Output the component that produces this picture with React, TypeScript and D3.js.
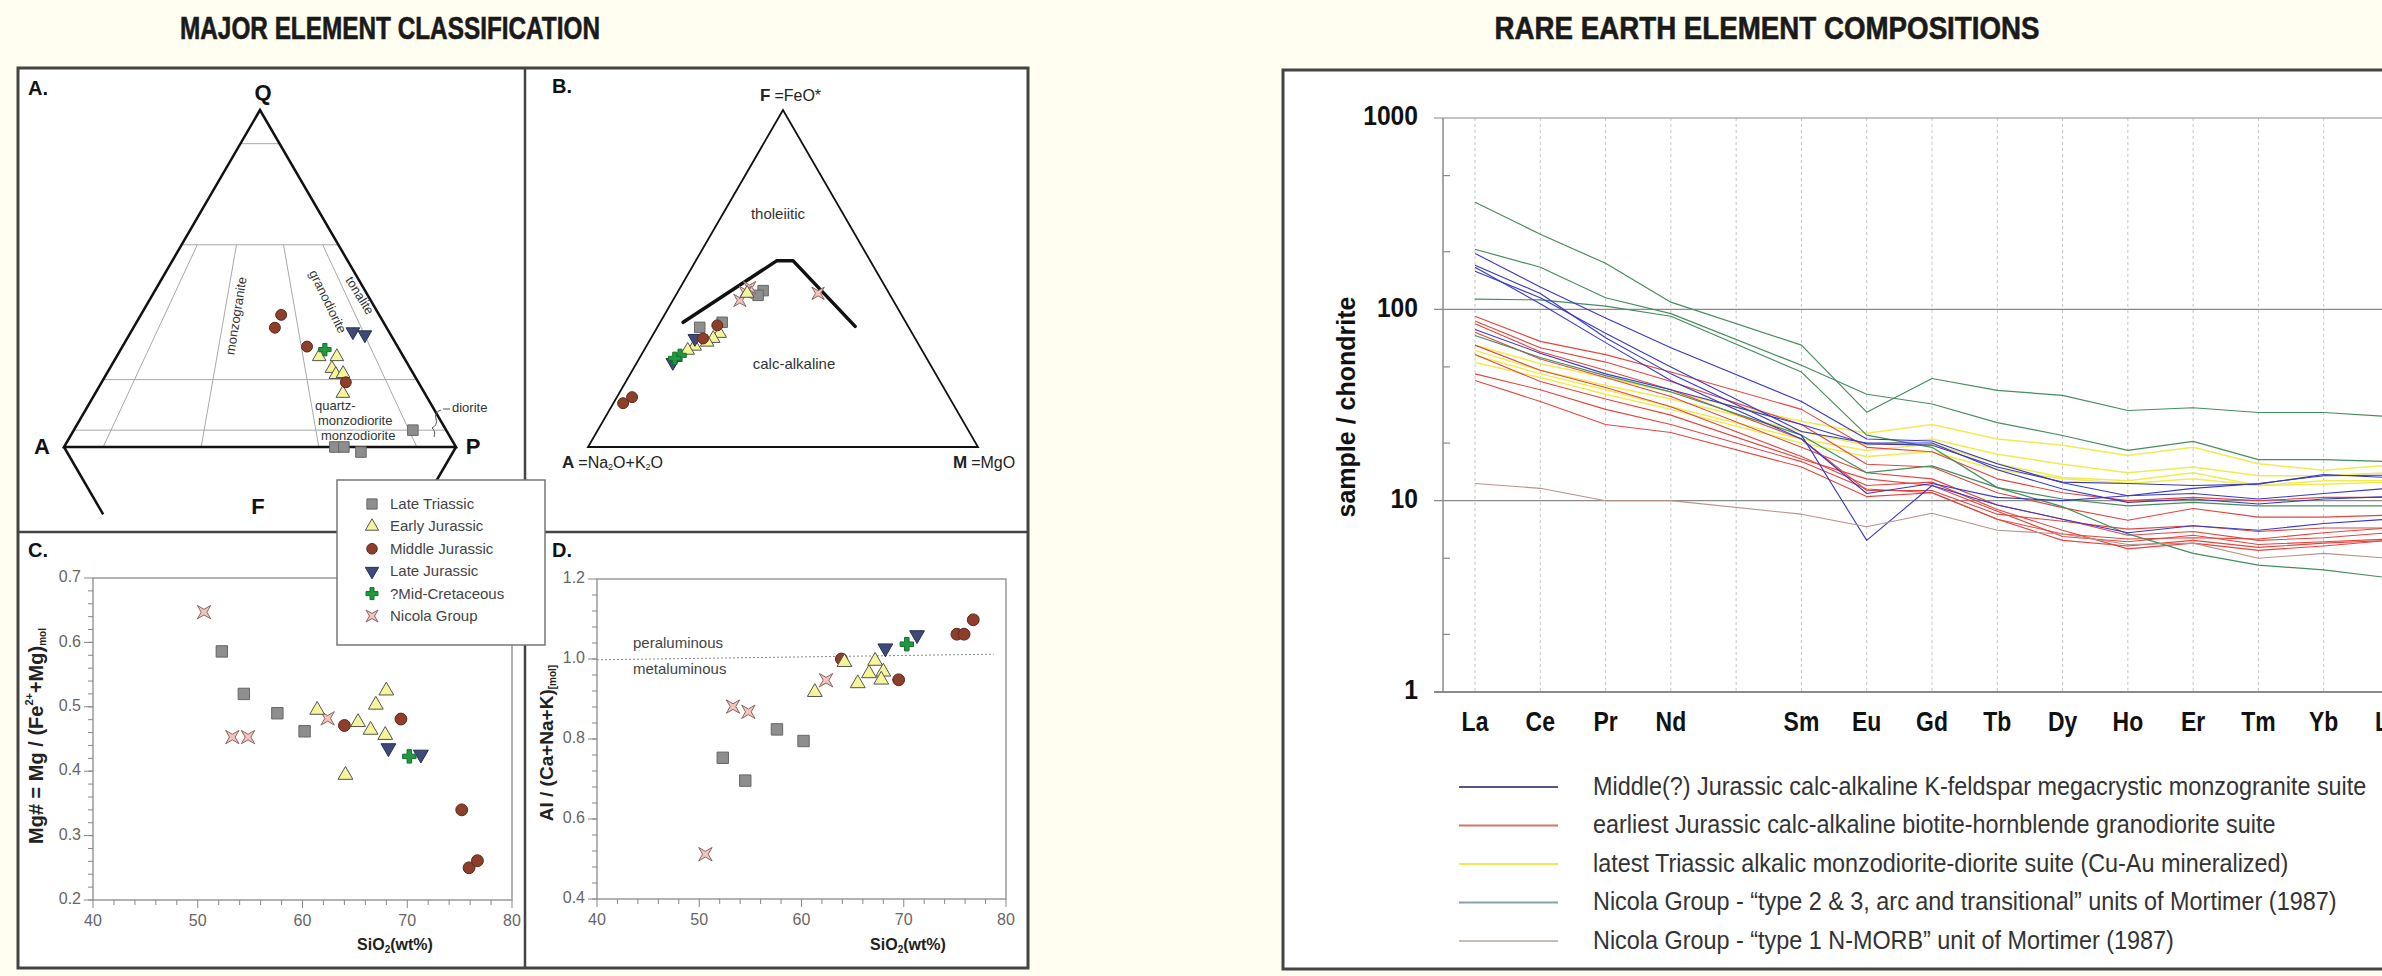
import React from 'react';
import * as d3 from 'd3';

const W = 2382;
const H = 976;

const groups = ['Late Triassic', 'Early Jurassic', 'Middle Jurassic', 'Late Jurassic', '?Mid-Cretaceous', 'Nicola Group'];

// A. QAP modal classification (Q + A + P = 100)
const qapPoints = [
  { g: 'Late Triassic', q: 5.0, a: 8.5, p: 86.5 },
  { g: 'Late Triassic', q: 0, a: 30.9, p: 69.1 },
  { g: 'Late Triassic', q: 0, a: 28.6, p: 71.4 },
  { g: 'Late Triassic', q: -1.5, a: 25.0, p: 76.5 },
  { g: 'Middle Jurassic', q: 39.2, a: 25.0, p: 35.8 },
  { g: 'Middle Jurassic', q: 35.4, a: 28.5, p: 36.1 },
  { g: 'Middle Jurassic', q: 29.8, a: 23.1, p: 47.1 },
  { g: 'Late Jurassic', q: 34.2, a: 9.2, p: 56.6 },
  { g: 'Late Jurassic', q: 33.3, a: 6.6, p: 60.1 },
  { g: 'Early Jurassic', q: 26.8, a: 21.5, p: 51.7 },
  { g: 'Early Jurassic', q: 26.8, a: 17.0, p: 56.2 },
  { g: 'Early Jurassic', q: 23.3, a: 20.0, p: 56.7 },
  { g: 'Early Jurassic', q: 21.5, a: 19.9, p: 58.6 },
  { g: 'Early Jurassic', q: 21.8, a: 17.9, p: 60.3 },
  { g: 'Early Jurassic', q: 15.9, a: 20.9, p: 63.2 },
  { g: 'Middle Jurassic', q: 19.2, a: 18.5, p: 62.3 },
  { g: '?Mid-Cretaceous', q: 28.9, a: 19.0, p: 52.1 },
];
const qapHorizontals = [90, 60, 20, 5];
const qapRadials = [0.1, 0.35, 0.65, 0.9];

// B. AFM (F = FeO*, M = MgO, A = rest)
const afmBoundary = [[37.0, 5.9], [55.3, 20.8], [55.3, 24.9], [35.8, 50.6]];
const afmPoints = [
  { g: 'Late Triassic', f: 35.5, m: 10.9 },
  { g: 'Late Triassic', f: 37.0, m: 15.9 },
  { g: 'Late Triassic', f: 46.4, m: 21.7 },
  { g: 'Late Triassic', f: 45.0, m: 21.1 },
  { g: 'Nicola Group', f: 47.3, m: 17.8 },
  { g: 'Nicola Group', f: 43.5, m: 17.2 },
  { g: 'Nicola Group', f: 45.9, m: 17.4 },
  { g: 'Nicola Group', f: 45.6, m: 36.2 },
  { g: 'Early Jurassic', f: 45.6, m: 18.0 },
  { g: 'Early Jurassic', f: 33.7, m: 16.9 },
  { g: 'Early Jurassic', f: 32.2, m: 16.0 },
  { g: 'Early Jurassic', f: 31.1, m: 15.0 },
  { g: 'Early Jurassic', f: 29.9, m: 12.4 },
  { g: 'Early Jurassic', f: 28.7, m: 11.2 },
  { g: 'Late Jurassic', f: 32.2, m: 11.3 },
  { g: 'Late Jurassic', f: 25.1, m: 9.2 },
  { g: 'Middle Jurassic', f: 36.1, m: 15.1 },
  { g: 'Middle Jurassic', f: 32.2, m: 13.4 },
  { g: 'Middle Jurassic', f: 13.0, m: 2.5 },
  { g: 'Middle Jurassic', f: 14.8, m: 3.9 },
  { g: '?Mid-Cretaceous', f: 27.2, m: 10.0 },
  { g: '?Mid-Cretaceous', f: 26.3, m: 9.1 },
];

// C. Mg# vs SiO2
const mgPoints = [
  { g: 'Late Triassic', si: 52.3, v: 0.586 },
  { g: 'Late Triassic', si: 54.4, v: 0.520 },
  { g: 'Late Triassic', si: 57.6, v: 0.490 },
  { g: 'Late Triassic', si: 60.2, v: 0.462 },
  { g: 'Nicola Group', si: 50.6, v: 0.647 },
  { g: 'Nicola Group', si: 53.3, v: 0.453 },
  { g: 'Nicola Group', si: 54.8, v: 0.453 },
  { g: 'Nicola Group', si: 62.4, v: 0.482 },
  { g: 'Early Jurassic', si: 61.4, v: 0.495 },
  { g: 'Early Jurassic', si: 65.3, v: 0.476 },
  { g: 'Early Jurassic', si: 66.5, v: 0.464 },
  { g: 'Early Jurassic', si: 67.0, v: 0.503 },
  { g: 'Early Jurassic', si: 68.0, v: 0.525 },
  { g: 'Early Jurassic', si: 67.9, v: 0.456 },
  { g: 'Early Jurassic', si: 64.1, v: 0.394 },
  { g: 'Middle Jurassic', si: 64.0, v: 0.471 },
  { g: 'Middle Jurassic', si: 69.4, v: 0.481 },
  { g: 'Middle Jurassic', si: 75.2, v: 0.340 },
  { g: 'Middle Jurassic', si: 75.9, v: 0.250 },
  { g: 'Middle Jurassic', si: 76.7, v: 0.261 },
  { g: 'Late Jurassic', si: 68.2, v: 0.436 },
  { g: 'Late Jurassic', si: 71.3, v: 0.426 },
  { g: '?Mid-Cretaceous', si: 70.2, v: 0.423 },
];

// D. ASI vs SiO2
const asiBoundary = [[40, 0.998], [78.8, 1.012]];
const asiPoints = [
  { g: 'Late Triassic', si: 52.3, v: 0.753 },
  { g: 'Late Triassic', si: 54.5, v: 0.696 },
  { g: 'Late Triassic', si: 57.6, v: 0.824 },
  { g: 'Late Triassic', si: 60.2, v: 0.795 },
  { g: 'Nicola Group', si: 50.6, v: 0.512 },
  { g: 'Nicola Group', si: 53.3, v: 0.881 },
  { g: 'Nicola Group', si: 54.8, v: 0.868 },
  { g: 'Nicola Group', si: 62.4, v: 0.947 },
  { g: 'Middle Jurassic', si: 63.9, v: 1.0 },
  { g: 'Middle Jurassic', si: 69.5, v: 0.948 },
  { g: 'Middle Jurassic', si: 75.2, v: 1.062 },
  { g: 'Middle Jurassic', si: 75.9, v: 1.062 },
  { g: 'Middle Jurassic', si: 76.8, v: 1.098 },
  { g: 'Early Jurassic', si: 61.3, v: 0.917 },
  { g: 'Early Jurassic', si: 64.2, v: 0.992 },
  { g: 'Early Jurassic', si: 65.5, v: 0.939 },
  { g: 'Early Jurassic', si: 66.6, v: 0.964 },
  { g: 'Early Jurassic', si: 67.2, v: 0.995 },
  { g: 'Early Jurassic', si: 68.0, v: 0.968 },
  { g: 'Early Jurassic', si: 67.8, v: 0.948 },
  { g: 'Late Jurassic', si: 68.2, v: 1.027 },
  { g: 'Late Jurassic', si: 71.3, v: 1.06 },
  { g: '?Mid-Cretaceous', si: 70.3, v: 1.037 },
];

// REE chondrite-normalised patterns (Pm not analysed)
const reeElements = ['La', 'Ce', 'Pr', 'Nd', 'Pm', 'Sm', 'Eu', 'Gd', 'Tb', 'Dy', 'Ho', 'Er', 'Tm', 'Yb', 'Lu'];
const reeLabels = ['La', 'Ce', 'Pr', 'Nd', '', 'Sm', 'Eu', 'Gd', 'Tb', 'Dy', 'Ho', 'Er', 'Tm', 'Yb', 'Lu'];
const reeTicksMajor = [1, 10, 100, 1000];
const reeTicksMinor = [2, 5, 20, 50, 200, 500];

const reeMonzogranite = [
  [196, 131, 90, 63, null, 33, 21, 20.5, 15.6, 12.4, 10.6, 11.6, 12.3, 13.5, 13.6],
  [170, 121, 71, 46, null, 22, 6.2, 12, 9.5, 8, 6.8, 7.4, 7, 7.6, 8],
  [166, 107, 67, 42.5, null, 21, 10.9, 12.3, 10.4, 10, 10.6, 10.9, 10.2, 10.9, 11.6],
  [158, 115, 75, 50, null, 23, 20, 20, 14.5, 11.5, 9.8, 10.2, 9.6, 10.2, 10.5],
  [78.5, 59, 46, 38, null, 25, 19.8, 19.5, 15, 12.5, 12.3, 12, 12.2, 13.7, 13.2],
];
const reeGranodiorite = [
  [92, 68, 58, 47, null, 30, 19, 18, 13, 11, 10, 10.4, 10, 10.4, 10.4],
  [87, 63, 53, 42, null, 25, 15.5, 15, 11, 9.2, 7.9, 9.1, 8.2, 8.2, 8.4],
  [84, 60, 48, 38, null, 21, 11.3, 11.3, 8.5, 7.8, 7.1, 7.4, 6.9, 7.2, 7.2],
  [76, 55, 44, 35, null, 19, 14, 13, 9.5, 8, 6.6, 6.9, 6.2, 6.4, 6.8],
  [65, 48, 39, 31, null, 17, 12, 12.5, 9, 7, 5.6, 6.0, 5.5, 5.8, 6.2],
  [58, 42, 34, 28, null, 16.5, 13, 12, 8.8, 6.5, 6.1, 6.6, 5.9, 6.1, 6.3],
  [46, 38, 30, 25, null, 16, 11.5, 11, 8, 6.2, 5.8, 6.2, 5.7, 6, 6.2],
  [42.5, 33, 25, 22.7, null, 15, 10.5, 11, 8, 6.7, 6.3, 6.4, 6.3, 6.8, 7.2],
];
const reeAlkalic = [
  [65, 52, 44, 37, null, 26, 22.5, 25, 21, 19.5, 17.2, 19, 15.6, 14.4, 15.3],
  [61, 48, 40, 34, null, 23, 19.5, 21, 17.5, 15.5, 14, 15, 13.5, 13.5, 14],
  [57.5, 46, 38, 31, null, 21, 18.3, 19.8, 15.6, 13.2, 12.7, 14, 12, 12.7, 12.7],
  [52.7, 44, 36, 30, null, 20, 17, 18, 14.5, 13, 12.3, 13, 12, 12.2, 12.5],
];
const reeNicolaArc = [
  [363, 247, 174, 109, null, 65, 29, 43.5, 37.7, 35.5, 29.6, 30.6, 28.9, 28.9, 27.5],
  [206, 166, 115, 95, null, 51, 36, 32, 25.6, 21.9, 18.3, 20.4, 16.4, 16.4, 16],
  [113, 112, 104, 92, null, 47, 22, 19, 11.7, 9.3, 6.7, 5.3, 4.6, 4.35, 3.95],
  [73, 56, 45, 37, null, 22, 14, 15.2, 11.7, 10.2, 9.4, 9.8, 9.4, 9.4, 9.4],
];
const reeNicolaMorb = [
  [12.3, 11.6, 10, 10, null, 8.5, 7.3, 8.6, 7.0, 6.7, 5.9, 6.0, 5.0, 5.3, 5.0],
];
const reeLegendLabels = [
  'Middle(?) Jurassic calc-alkaline K-feldspar megacrystic monzogranite suite',
  'earliest Jurassic calc-alkaline biotite-hornblende granodiorite suite',
  'latest Triassic alkalic monzodiorite-diorite suite (Cu-Au mineralized)',
  'Nicola Group - \u201Ctype 2 & 3, arc and transitional\u201D units of Mortimer (1987)',
  'Nicola Group - \u201Ctype 1 N-MORB\u201D unit of Mortimer (1987)',
];

const FONT = "'Liberation Sans', Arial, Helvetica, sans-serif";

const symbolNicola = {
  draw(ctx: any, size: number) {
    const a = Math.sqrt(size) / 2;
    const b = a * 0.42;
    ctx.moveTo(-a, -a);
    ctx.lineTo(0, -b);
    ctx.lineTo(a, -a);
    ctx.lineTo(b, 0);
    ctx.lineTo(a, a);
    ctx.lineTo(0, b);
    ctx.lineTo(-a, a);
    ctx.lineTo(-b, 0);
    ctx.closePath();
  },
};

const groupStyle: Record<string, any> = {
  'Late Triassic': { type: d3.symbolSquare, size: 130, fill: '#8e8e8e', stroke: '#666', rot: 0 },
  'Early Jurassic': { type: d3.symbolTriangle, size: 95, fill: '#f6f59a', stroke: '#555', rot: 0 },
  'Middle Jurassic': { type: d3.symbolCircle, size: 110, fill: '#8d3f2b', stroke: '#5c2818', rot: 0 },
  'Late Jurassic': { type: d3.symbolTriangle, size: 95, fill: '#3f4a78', stroke: '#283050', rot: 180 },
  '?Mid-Cretaceous': { type: d3.symbolCross, size: 100, fill: '#1f9a40', stroke: '#146e2c', rot: 0 },
  'Nicola Group': { type: symbolNicola, size: 180, fill: '#f0c6bc', stroke: '#8a6464', rot: 0 },
};

function Marker({ g, x, y, k = 1 }: { g: string; x: number; y: number; k?: number }) {
  const s = groupStyle[g];
  const d = d3.symbol().type(s.type).size(s.size * k)() as string;
  return (
    <path d={d} transform={`translate(${x},${y}) rotate(${s.rot})`} fill={s.fill} stroke={s.stroke} strokeWidth={1} />
  );
}

function ScatterPanel({ xs, ys, yMajor, yMinor, pts, fmt }: any) {
  const [x0, x1] = xs.range();
  const [y0, y1] = ys.range();
  const xMajor = d3.range(40, 81, 10);
  const xMinor = d3.range(40, 81, 2);
  return (
    <g>
      <rect x={x0} y={y1} width={x1 - x0} height={y0 - y1} fill="none" stroke="#9a9a9a" strokeWidth={1.5} />
      {xMinor.map((t: number) => (
        <line key={'xm' + t} x1={xs(t)} x2={xs(t)} y1={y0} y2={y0 + (xMajor.includes(t) ? 8 : 5)} stroke="#888" />
      ))}
      {xMajor.map((t: number) => (
        <text key={'xl' + t} x={xs(t)} y={y0 + 22} textAnchor="middle" dominantBaseline="middle" fontSize={16} fill="#666" fontFamily={FONT}>
          {t}
        </text>
      ))}
      {yMinor.map((t: number) => (
        <line key={'ym' + t} x1={x0 - 5} x2={x0} y1={ys(t)} y2={ys(t)} stroke="#888" />
      ))}
      {yMajor.map((t: number) => (
        <g key={'yl' + t}>
          <line x1={x0 - 9} x2={x0} y1={ys(t)} y2={ys(t)} stroke="#888" />
          <text x={x0 - 12} y={ys(t)} textAnchor="end" dominantBaseline="middle" fontSize={16} fill="#666" fontFamily={FONT}>
            {fmt(t)}
          </text>
        </g>
      ))}
      {pts.map((p: any, i: number) => (
        <Marker key={i} g={p.g} x={xs(p.si)} y={ys(p.v)} />
      ))}
    </g>
  );
}

export default function App() {
  // ternary scales
  const qx = d3.scaleLinear().domain([0, 100]).range([64, 456]);
  const qy = d3.scaleLinear().domain([0, 100]).range([447, 110]);
  const qap = (q: number, p: number) => [qx(p + q / 2), qy(q)];
  const qapF = (f: number, p: number) => [qx(p + f / 2), qy(-f)];

  const fx = d3.scaleLinear().domain([0, 100]).range([588, 978]);
  const fy = d3.scaleLinear().domain([0, 100]).range([447, 110]);
  const afm = (f: number, m: number) => [fx(m + f / 2), fy(f)];

  const xC = d3.scaleLinear().domain([40, 80]).range([93, 512]);
  const yC = d3.scaleLinear().domain([0.2, 0.7]).range([900, 578]);
  const xD = d3.scaleLinear().domain([40, 80]).range([597, 1006]);
  const yD = d3.scaleLinear().domain([0.4, 1.2]).range([899, 579]);

  const xR = d3.scalePoint().domain(reeElements).range([1475, 2389]);
  const yR = d3.scaleLog().domain([1, 1000]).range([692, 118]);
  const reeLine = d3
    .line<any>()
    .x((d) => xR(d.e) as number)
    .y((d) => yR(d.v));
  const toPts = (s: (number | null)[]) => reeElements.map((e, i) => ({ e, v: s[i] })).filter((d) => d.v != null);

  const tri = [qap(100, 0), qap(0, 0), qap(0, 100)];
  const triAfm = [afm(100, 0), afm(0, 0), afm(0, 100)];
  const poly = (pts: number[][]) => 'M' + pts.map((p) => p.join(',')).join('L') + 'Z';

  const afmLine = d3
    .line<number[]>()
    .x((d) => afm(d[0], d[1])[0])
    .y((d) => afm(d[0], d[1])[1]);
  const asiLine = d3
    .line<number[]>()
    .x((d) => xD(d[0]))
    .y((d) => yD(d[1]));

  const suiteSets = [reeAlkalic, reeGranodiorite, reeNicolaArc, reeMonzogranite, reeNicolaMorb];
  const suiteColors = ['#f0ec50', '#e2463f', '#468d5e', '#3838c4', '#b8928a'];
  const suiteWidths = [1.5, 1.1, 1.2, 1.1, 1.1];
  const legendColors = ['#55558a', '#d27470', '#f0e84c', '#8aa2aa', '#cbbcb4'];

  const mono = (x: number, y: number, txt: string, opts: any = {}) => (
    <text x={x} y={y} fontFamily={FONT} dominantBaseline="middle" {...opts}>
      {txt}
    </text>
  );

  return (
    <svg width={W} height={H} style={{ position: 'absolute', left: 0, top: 0 }} xmlns="http://www.w3.org/2000/svg">
      <rect width={W} height={H} fill="#fffef0" />

      {/* titles */}
      <text x={390} y={31} textAnchor="middle" dominantBaseline="middle" fontFamily={FONT} fontWeight="bold" fontSize={31} fill="#1a1a1a" stroke="#1a1a1a" strokeWidth={0.6} textLength={420} lengthAdjust="spacingAndGlyphs">
        MAJOR ELEMENT CLASSIFICATION
      </text>
      <text x={1767} y={31} textAnchor="middle" dominantBaseline="middle" fontFamily={FONT} fontWeight="bold" fontSize={31} fill="#1a1a1a" stroke="#1a1a1a" strokeWidth={0.6} textLength={545} lengthAdjust="spacingAndGlyphs">
        RARE EARTH ELEMENT COMPOSITIONS
      </text>

      {/* ---------- left frame ---------- */}
      <rect x={18} y={68} width={1010} height={900} fill="#fff" stroke="#444" strokeWidth={3} />
      <line x1={525} x2={525} y1={68} y2={968} stroke="#444" strokeWidth={2.5} />
      <line x1={18} x2={1028} y1={532} y2={532} stroke="#444" strokeWidth={2.5} />

      {/* A. QAP */}
      <g>
        {qapHorizontals.map((q) => {
          const a = qap(q, 0);
          const b = qap(q, 100 - q);
          return <line key={q} x1={a[0]} y1={a[1]} x2={b[0]} y2={b[1]} stroke="#a8a8a8" strokeWidth={1} />;
        })}
        {qapRadials.map((r) => {
          const a = qap(60, 40 * r);
          const b = qap(0, 100 * r);
          return <line key={r} x1={a[0]} y1={a[1]} x2={b[0]} y2={b[1]} stroke="#a8a8a8" strokeWidth={1} />;
        })}
        <path d={poly(tri)} fill="none" stroke="#111" strokeWidth={2.5} strokeLinejoin="miter" />
        {(() => {
          const a = qapF(0, 0);
          const b = qapF(20, 0);
          const c = qapF(0, 100);
          const d = qapF(20, 80);
          return (
            <g stroke="#111" strokeWidth={2.5}>
              <line x1={a[0]} y1={a[1]} x2={b[0]} y2={b[1]} />
              <line x1={c[0]} y1={c[1]} x2={d[0]} y2={d[1]} />
            </g>
          );
        })()}
        {mono(28, 90, 'A.', { fontSize: 20, fontWeight: 'bold', fill: '#111' })}
        {mono(263, 94, 'Q', { fontSize: 22, fontWeight: 'bold', fill: '#111', textAnchor: 'middle' })}
        {mono(42, 448, 'A', { fontSize: 22, fontWeight: 'bold', fill: '#111', textAnchor: 'middle' })}
        {mono(473, 448, 'P', { fontSize: 22, fontWeight: 'bold', fill: '#111', textAnchor: 'middle' })}
        {mono(258, 508, 'F', { fontSize: 22, fontWeight: 'bold', fill: '#111', textAnchor: 'middle' })}
        <g fontFamily={FONT} fontSize={13} fill="#333">
          <text transform="translate(237,316) rotate(-81)" textAnchor="middle" dominantBaseline="middle">monzogranite</text>
          <text transform="translate(327,302) rotate(64)" textAnchor="middle" dominantBaseline="middle">granodiorite</text>
          <text transform="translate(359,296) rotate(58)" textAnchor="middle" dominantBaseline="middle">tonalite</text>
          <text x={315} y={407} dominantBaseline="middle">quartz-</text>
          <text x={318} y={422} dominantBaseline="middle">monzodiorite</text>
          <text x={321} y={437} dominantBaseline="middle">monzodiorite</text>
          <text x={452} y={409} dominantBaseline="middle">diorite</text>
        </g>
        <path d="M443,409 L450,409 M441,410 q-7,2 -5,9 q2,6 -4,9 q4,3 2,9" fill="none" stroke="#555" strokeWidth={1} />
        {qapPoints.map((p, i) => {
          const [x, y] = qap(p.q, p.p);
          return <Marker key={i} g={p.g} x={x} y={y} k={0.85} />;
        })}
      </g>

      {/* B. AFM */}
      <g>
        <path d={poly(triAfm)} fill="none" stroke="#111" strokeWidth={1.8} />
        <path d={afmLine(afmBoundary) as string} fill="none" stroke="#111" strokeWidth={3.5} strokeLinejoin="round" strokeLinecap="round" />
        {mono(552, 88, 'B.', { fontSize: 20, fontWeight: 'bold', fill: '#111' })}
        <text x={760} y={97} fontFamily={FONT} dominantBaseline="middle" fontSize={16} fill="#222">
          <tspan fontWeight="bold" fontSize={17}>F</tspan>
          <tspan dx={4}>=FeO*</tspan>
        </text>
        {mono(778, 215, 'tholeiitic', { fontSize: 15, fill: '#333', textAnchor: 'middle' })}
        {mono(794, 365, 'calc-alkaline', { fontSize: 15, fill: '#333', textAnchor: 'middle' })}
        <text x={562} y={464} fontFamily={FONT} dominantBaseline="middle" fontSize={16} fill="#222">
          <tspan fontWeight="bold" fontSize={17}>A</tspan>
          <tspan dx={4}>=Na</tspan>
          <tspan fontSize={9} dy={4}>2</tspan>
          <tspan dy={-4}>O+K</tspan>
          <tspan fontSize={9} dy={4}>2</tspan>
          <tspan dy={-4}>O</tspan>
        </text>
        <text x={953} y={464} fontFamily={FONT} dominantBaseline="middle" fontSize={16} fill="#222">
          <tspan fontWeight="bold" fontSize={17}>M</tspan>
          <tspan dx={4}>=MgO</tspan>
        </text>
        {afmPoints.map((p, i) => {
          const [x, y] = afm(p.f, p.m);
          return <Marker key={i} g={p.g} x={x} y={y} k={0.85} />;
        })}
      </g>

      {/* C. Mg# */}
      {mono(28, 552, 'C.', { fontSize: 20, fontWeight: 'bold', fill: '#111' })}
      <ScatterPanel xs={xC} ys={yC} yMajor={d3.range(0.2, 0.71, 0.1)} yMinor={d3.range(0.2, 0.7, 0.02)} pts={mgPoints} fmt={d3.format('.1f')} />
      <text transform="translate(38,736) rotate(-90)" textAnchor="middle" dominantBaseline="middle" fontFamily={FONT} fontWeight="bold" fontSize={20} fill="#222">
        Mg# = Mg / (Fe<tspan fontSize={11} dy={-8}>2+</tspan><tspan dy={8}>+Mg)</tspan><tspan fontSize={10} dy={5}>mol</tspan>
      </text>
      <text x={395} y={946} textAnchor="middle" dominantBaseline="middle" fontFamily={FONT} fontWeight="bold" fontSize={16} fill="#222">
        SiO<tspan fontSize={10} dy={4}>2</tspan><tspan dy={-4}>(wt%)</tspan>
      </text>

      {/* D. ASI */}
      {mono(552, 552, 'D.', { fontSize: 20, fontWeight: 'bold', fill: '#111' })}
      <path d={asiLine(asiBoundary) as string} fill="none" stroke="#888" strokeWidth={1} strokeDasharray="2,2" />
      {mono(633, 644, 'peraluminous', { fontSize: 15, fill: '#444' })}
      {mono(633, 670, 'metaluminous', { fontSize: 15, fill: '#444' })}
      <ScatterPanel xs={xD} ys={yD} yMajor={d3.range(0.4, 1.21, 0.2)} yMinor={d3.range(0.4, 1.2, 0.04)} pts={asiPoints} fmt={d3.format('.1f')} />
      <text transform="translate(548,743) rotate(-90)" textAnchor="middle" dominantBaseline="middle" fontFamily={FONT} fontWeight="bold" fontSize={19} fill="#222">
        Al /  (Ca+Na+K)<tspan fontSize={10} dy={5}>[mol]</tspan>
      </text>
      <text x={908} y={946} textAnchor="middle" dominantBaseline="middle" fontFamily={FONT} fontWeight="bold" fontSize={16} fill="#222">
        SiO<tspan fontSize={10} dy={4}>2</tspan><tspan dy={-4}>(wt%)</tspan>
      </text>

      {/* symbol legend */}
      <g>
        <rect x={337} y={480} width={208} height={165} fill="#fff" stroke="#777" strokeWidth={1.5} />
        {groups.map((g, i) => (
          <g key={g}>
            <Marker g={g} x={372} y={504 + i * 22.4} k={0.8} />
            {mono(390, 505 + i * 22.4, g, { fontSize: 15, fill: '#444' })}
          </g>
        ))}
      </g>

      {/* ---------- REE frame ---------- */}
      <rect x={1283} y={70} width={1200} height={899} fill="#fff" stroke="#444" strokeWidth={3} />
      <g>
        {reeElements.map((e) => (
          <line key={e} x1={xR(e)} x2={xR(e)} y1={118} y2={692} stroke="#c4c4c4" strokeWidth={1} strokeDasharray="3,3" />
        ))}
        {reeTicksMajor.map((t) => (
          <g key={t}>
            <line x1={1434} x2={2400} y1={yR(t)} y2={yR(t)} stroke="#8a8a8a" strokeWidth={t === 1 ? 1.8 : 1.2} />
            <text transform={`translate(1418,${yR(t)}) scale(0.88,1)`} textAnchor="end" dominantBaseline="middle" fontFamily={FONT} fontWeight="bold" fontSize={28} fill="#111">
              {t}
            </text>
          </g>
        ))}
        {reeTicksMinor.map((t) => (
          <line key={t} x1={1443} x2={1450} y1={yR(t)} y2={yR(t)} stroke="#8a8a8a" strokeWidth={1.2} />
        ))}
        <line x1={1443} x2={1443} y1={118} y2={692} stroke="#8a8a8a" strokeWidth={1.5} />
        <text transform="translate(1348,407) rotate(-90)" textAnchor="middle" dominantBaseline="middle" fontFamily={FONT} fontWeight="bold" fontSize={25} fill="#111">
          sample / chondrite
        </text>
        {reeElements.map((e, i) => (
          <text key={e} transform={`translate(${xR(e)},${724}) scale(0.85,1)`} textAnchor="middle" dominantBaseline="middle" fontFamily={FONT} fontWeight="bold" fontSize={27} fill="#111">
            {reeLabels[i]}
          </text>
        ))}
        {suiteSets.map((set, si) =>
          set.map((s, k) => (
            <path key={si + '-' + k} d={reeLine(toPts(s)) as string} fill="none" stroke={suiteColors[si]} strokeWidth={suiteWidths[si]} strokeLinejoin="round" />
          ))
        )}
        {reeLegendLabels.map((lab, i) => (
          <g key={i}>
            <line x1={1459} x2={1558} y1={787 + i * 38.5} y2={787 + i * 38.5} stroke={legendColors[i]} strokeWidth={1.8} />
            <text transform={`translate(1593,${788 + i * 38.5}) scale(0.9,1)`} dominantBaseline="middle" fontFamily={FONT} fontSize={26} fill="#333">
              {lab}
            </text>
          </g>
        ))}
      </g>
    </svg>
  );
}
